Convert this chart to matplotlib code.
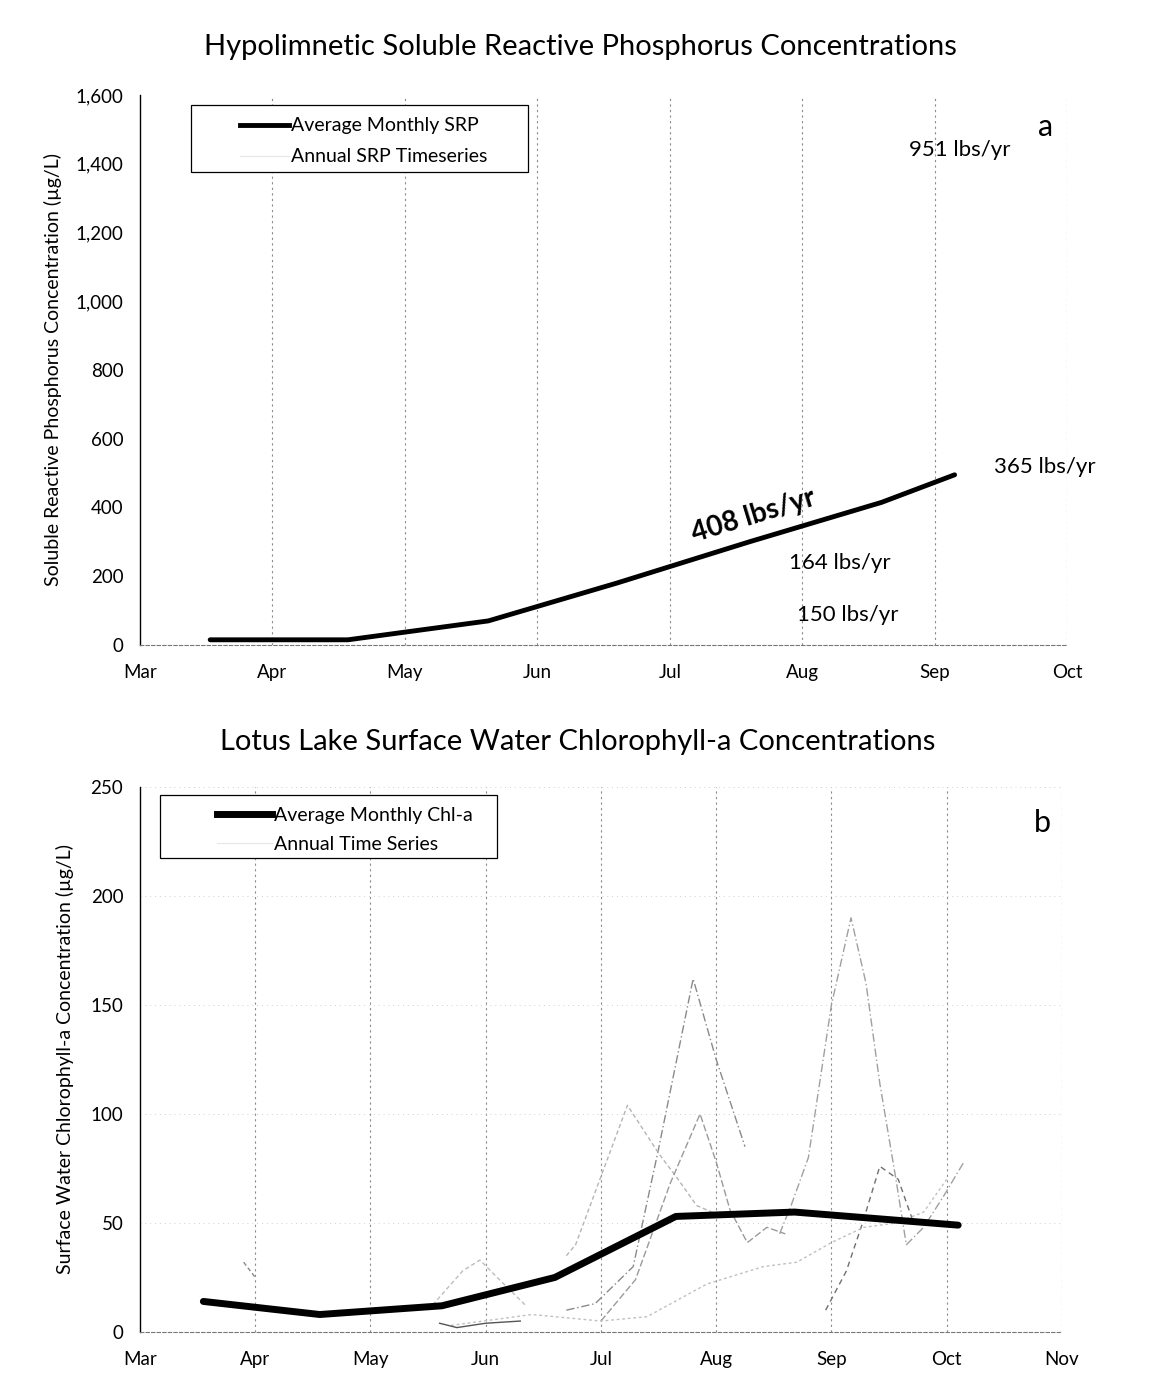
import matplotlib
matplotlib.use("Agg")
import matplotlib.pyplot as plt
from matplotlib.lines import Line2D
from matplotlib.patches import Rectangle
from matplotlib.ticker import FuncFormatter

plt.rcParams['font.family'] = ['Lato', 'DejaVu Sans']

# ---------------- data ----------------
months_a = ["Mar", "Apr", "May", "Jun", "Jul", "Aug", "Sep", "Oct"]
months_b = ["Mar", "Apr", "May", "Jun", "Jul", "Aug", "Sep", "Oct", "Nov"]

# Panel a: average monthly SRP (x = months since Mar 1)
srp_month = [0.53, 1.57, 2.63, 3.6, 4.6, 5.6, 6.15]
srp_avg = [15, 15, 70, 180, 300, 415, 495]

# Panel b: average monthly Chl-a
chl_month = [0.55, 1.56, 2.62, 3.6, 4.65, 5.68, 7.1]
chl_avg = [14, 8, 12, 25, 53, 55, 49]

# Panel b: annual time series (faint)
s1_month = [3.7, 3.95, 4.28, 4.5, 4.8, 5.0, 5.25]
s1_val = [10, 13, 30, 84, 162, 125, 85]
s2_month = [3.7, 3.78, 4.23, 4.5, 4.67, 4.83, 5.05]
s2_val = [35, 40, 104, 82, 70, 58, 53]
s3_month = [4.0, 4.3, 4.6, 4.86, 5.0, 5.12, 5.27, 5.44, 5.6]
s3_val = [5, 24, 68, 100, 78, 56, 41, 48, 45]
s4_month = [5.55, 5.65, 5.8, 6.0, 6.17, 6.3, 6.42, 6.56, 6.65, 6.8, 6.97, 7.15]
s4_val = [45, 58, 80, 150, 190, 160, 114, 70, 40, 48, 62, 78]
s5_month = [5.95, 6.13, 6.27, 6.42, 6.58, 6.7]
s5_val = [10, 28, 50, 76, 70, 52]
s6_month = [2.7, 3.4, 4.0, 4.4, 4.92, 5.41, 5.7, 6.0, 6.28, 6.56, 6.8, 7.0]
s6_val = [3, 8, 5, 7, 22, 30, 32, 41, 48, 50, 55, 70]
s7_month = [2.5, 2.8, 2.95, 3.1, 3.35]
s7_val = [10, 28, 33, 25, 12]
s8_month = [2.6, 2.75, 3.0, 3.3]
s8_val = [4, 2, 4, 5]
s9_month = [0.9, 1.0]
s9_val = [32, 25]

annual_series = [
    (s1_month, s1_val, '#8a8a8a', (0, (6, 2, 1, 2))),
    (s2_month, s2_val, '#b5b5b5', (0, (3, 2))),
    (s3_month, s3_val, '#9a9a9a', (0, (5, 2))),
    (s4_month, s4_val, '#a0a0a0', (0, (6, 2, 1, 2))),
    (s5_month, s5_val, '#707070', (0, (4, 3))),
    (s6_month, s6_val, '#c0c0c0', (0, (2, 2))),
    (s7_month, s7_val, '#bdbdbd', (0, (3, 2))),
    (s8_month, s8_val, '#555555', '-'),
    (s9_month, s9_val, '#888888', (0, (3, 2))),
]

# ---------------- figure ----------------
fig = plt.figure(figsize=(11.51, 13.74), dpi=100)

grid_kw = dict(color='#8c8c8c', linestyle=(0, (2, 3)), linewidth=0.8)
FS_TICK = 13.5
FS_LEG = 14
FS_ANN = 16

# ----- Panel a -----
ax1 = fig.add_axes([0.1216, 0.5306, 0.8056, 0.4003])
ax1.plot(srp_month, srp_avg, color='black', lw=3.5, solid_capstyle='round', zorder=3)
ax1.set_xlim(0, 7)
ax1.set_ylim(0, 1600)
ax1.set_yticks(range(0, 1601, 200))
ax1.yaxis.set_major_formatter(FuncFormatter(lambda v, p: f"{int(v):,}"))
ax1.set_xticks(range(len(months_a)))
ax1.set_xticklabels(months_a)
for m in range(1, len(months_a)):
    ax1.axvline(m, **grid_kw, zorder=1)
ax1.set_ylabel("Soluble Reactive Phosphorus Concentration (µg/L)", fontsize=14, labelpad=10)
fig.text(0.504, 0.9658, "Hypolimnetic Soluble Reactive Phosphorus Concentrations",
         fontsize=21, ha='center', va='center')

ax1.text(6.19, 1440, "951 lbs/yr", fontsize=FS_ANN, ha='center', va='center')
ax1.text(6.83, 518, "365 lbs/yr", fontsize=FS_ANN, ha='center', va='center')
ax1.text(4.63, 375, "408 lbs/yr", fontsize=20, fontweight='bold',
         ha='center', va='center', rotation=17)
ax1.text(5.28, 239, "164 lbs/yr", fontsize=FS_ANN, ha='center', va='center')
ax1.text(5.34, 87, "150 lbs/yr", fontsize=FS_ANN, ha='center', va='center')
ax1.text(6.84, 1507, "a", fontsize=22, ha='center', va='center')

ax1.add_patch(Rectangle((0.055, 0.86), 0.364, 0.122, transform=ax1.transAxes,
                        facecolor='white', edgecolor='black', lw=0.9, zorder=4))
h1 = [Line2D([], [], color='black', lw=3.5),
      Line2D([], [], color='#e6e6e6', lw=0.8)]
leg1 = ax1.legend(h1, ["Average Monthly SRP", "Annual SRP Timeseries"],
                  loc='upper left', bbox_to_anchor=(0.108, 0.959),
                  borderaxespad=0, borderpad=0, frameon=False,
                  fontsize=FS_LEG, handlelength=2.5,
                  handletextpad=0.1, labelspacing=0.72)
leg1.set_zorder(5)

# ----- Panel b -----
ax2 = fig.add_axes([0.1216, 0.0306, 0.8010, 0.3966])
for mx, vy, c, ls in annual_series:
    ax2.plot(mx, vy, color=c, lw=1.0, linestyle=ls, zorder=2)
ax2.plot(chl_month, chl_avg, color='black', lw=5, solid_capstyle='round', zorder=3)
ax2.set_xlim(0, 8)
ax2.set_ylim(0, 250)
ax2.set_yticks(range(0, 251, 50))
ax2.set_xticks(range(len(months_b)))
ax2.set_xticklabels(months_b)
for m in range(1, len(months_b)):
    ax2.axvline(m, **grid_kw, zorder=1)
for v in range(50, 251, 50):
    ax2.axhline(v, color='#d0d0d0', linestyle=(0, (1, 4)), linewidth=0.7, zorder=1)
ax2.set_ylabel("Surface Water Chlorophyll-a Concentration (µg/L)", fontsize=14, labelpad=12)
fig.text(0.502, 0.4600, "Lotus Lake Surface Water Chlorophyll-a Concentrations",
         fontsize=21, ha='center', va='center')
ax2.text(7.83, 233.5, "b", fontsize=22, ha='center', va='center')

ax2.add_patch(Rectangle((0.0217, 0.870), 0.3655, 0.115, transform=ax2.transAxes,
                        facecolor='white', edgecolor='black', lw=0.9, zorder=4))
h2 = [Line2D([], [], color='black', lw=5),
      Line2D([], [], color='#e6e6e6', lw=0.8)]
leg2 = ax2.legend(h2, ["Average Monthly Chl-a", "Annual Time Series"],
                  loc='upper left', bbox_to_anchor=(0.084, 0.963),
                  borderaxespad=0, borderpad=0, frameon=False,
                  fontsize=FS_LEG, handlelength=2.8,
                  handletextpad=0.1, labelspacing=0.6)
leg2.set_zorder(5)

for ax in (ax1, ax2):
    ax.spines['top'].set_visible(False)
    ax.spines['right'].set_visible(False)
    ax.spines['left'].set_color('black')
    ax.spines['left'].set_linewidth(1.0)
    ax.spines['bottom'].set_color('#777777')
    ax.spines['bottom'].set_linestyle((0, (3, 2)))
    ax.tick_params(axis='y', length=0, labelsize=FS_TICK, pad=12)
    ax.tick_params(axis='x', length=0, labelsize=FS_TICK, pad=14)

fig.savefig("out.png", dpi=100)
